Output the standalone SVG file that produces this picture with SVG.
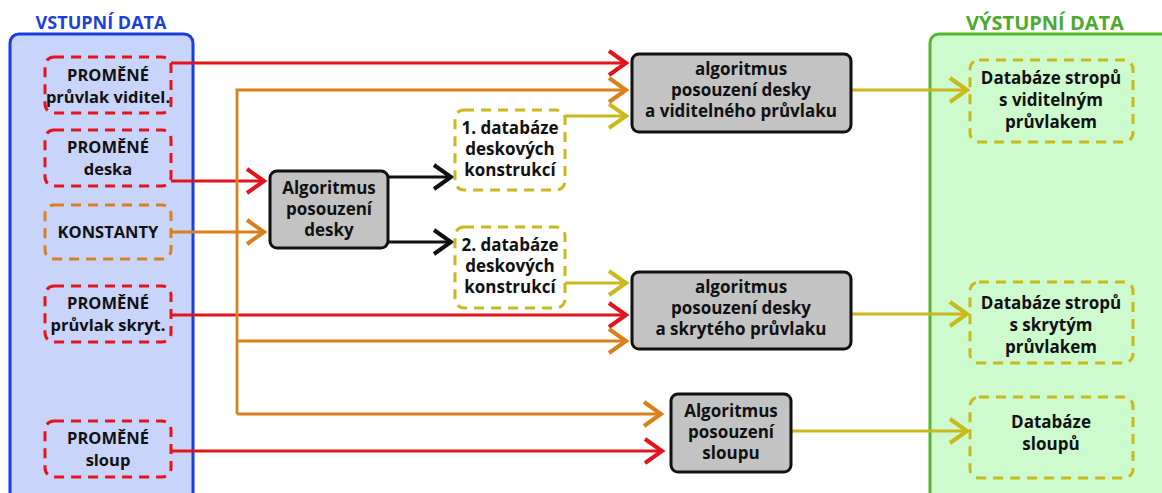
<svg xmlns="http://www.w3.org/2000/svg" width="1162" height="493" viewBox="0 0 1162 493">
  <style>
    text { font-family: "Open Sans", "Liberation Sans", sans-serif; font-weight: bold; font-size: 17px; fill: #111; text-anchor: middle; }
    .in text { font-size: 16.5px; }
    .title-in { fill: #1d3fdc; font-size: 18px; }
    .title-out { fill: #4daa2a; font-size: 20px; }
    .panel-in { fill: #c9d4fb; stroke: #1a3de0; stroke-width: 3; }
    .panel-out { fill: #cdfbcd; stroke: #55b82a; stroke-width: 3; }
    .dash { fill: none; stroke-width: 3; stroke-dasharray: 10 7; }
    .red { stroke: #e3141b; }
    .orange { stroke: #d9801c; }
    .yellow { stroke: #c9b91c; }
    .algo { fill: #c3c3c3; stroke: #111; stroke-width: 3; }
    .line { fill: none; stroke-width: 2.8; }
    .k { stroke: #111; }
  </style>
  <defs>
    <marker id="ah-red" viewBox="-22 -14 24 28" refX="0" refY="0" markerWidth="24" markerHeight="28" markerUnits="userSpaceOnUse" orient="auto" overflow="visible">
      <path d="M-18,-12 L-1,0 L-18,12" fill="none" stroke="#e3141b" stroke-width="4"/>
    </marker>
    <marker id="ah-orange" viewBox="-22 -14 24 28" refX="0" refY="0" markerWidth="24" markerHeight="28" markerUnits="userSpaceOnUse" orient="auto" overflow="visible">
      <path d="M-18,-12 L-1,0 L-18,12" fill="none" stroke="#d9801c" stroke-width="4"/>
    </marker>
    <marker id="ah-yellow" viewBox="-22 -14 24 28" refX="0" refY="0" markerWidth="24" markerHeight="28" markerUnits="userSpaceOnUse" orient="auto" overflow="visible">
      <path d="M-18,-12 L-1,0 L-18,12" fill="none" stroke="#c9b91c" stroke-width="4"/>
    </marker>
    <marker id="ah-black" viewBox="-22 -14 24 28" refX="0" refY="0" markerWidth="24" markerHeight="28" markerUnits="userSpaceOnUse" orient="auto" overflow="visible">
      <path d="M-18,-12 L-1,0 L-18,12" fill="none" stroke="#111" stroke-width="4"/>
    </marker>
  </defs>

  <rect width="1162" height="493" fill="#fff"/>

  <!-- input / output panels -->
  <g id="panel-input">
    <rect class="panel-in" x="10" y="34" width="183" height="480" rx="9"/>
    <text class="title-in" x="101" y="29">VSTUPNÍ DATA</text>
  </g>
  <g id="panel-output">
    <rect class="panel-out" x="930" y="34" width="260" height="480" rx="9"/>
    <text class="title-out" x="1045" y="30">VÝSTUPNÍ DATA</text>
  </g>

  <!-- connectors -->
  <g id="connectors">
    <path class="line red" d="M171,63 H627" marker-end="url(#ah-red)"/>
    <path class="line red" d="M171,181 H265" marker-end="url(#ah-red)"/>
    <path class="line red" d="M171,315 H627" marker-end="url(#ah-red)"/>
    <path class="line red" d="M171,451 H663" marker-end="url(#ah-red)"/>

    <path class="line orange" d="M171,232 H265" marker-end="url(#ah-orange)"/>
    <path class="line orange" d="M237,414 V90 H627" marker-end="url(#ah-orange)"/>
    <path class="line orange" d="M237,341 H627" marker-end="url(#ah-orange)"/>
    <path class="line orange" d="M237,414 H662" marker-end="url(#ah-orange)"/>

    <path class="line k" d="M388,177 H452" marker-end="url(#ah-black)"/>
    <path class="line k" d="M388,242 H452" marker-end="url(#ah-black)"/>

    <path class="line yellow" d="M565,116 H627" marker-end="url(#ah-yellow)"/>
    <path class="line yellow" d="M565,283 H627" marker-end="url(#ah-yellow)"/>
    <path class="line yellow" d="M851,90 H968" marker-end="url(#ah-yellow)"/>
    <path class="line yellow" d="M851,314 H968" marker-end="url(#ah-yellow)"/>
    <path class="line yellow" d="M791,431 H968" marker-end="url(#ah-yellow)"/>
  </g>

  <!-- input nodes -->
  <g id="in-pruvlak-viditel" class="in">
    <rect class="dash red" x="45" y="57" width="126" height="56" rx="9"/>
    <text x="108" y="81">PROMĚNÉ</text>
    <text x="108" y="103">průvlak viditel.</text>
  </g>
  <g id="in-deska" class="in">
    <rect class="dash red" x="45" y="130" width="126" height="56" rx="9"/>
    <text x="108" y="153">PROMĚNÉ</text>
    <text x="108" y="175">deska</text>
  </g>
  <g id="in-konstanty" class="in">
    <rect class="dash orange" x="45" y="205" width="126" height="54" rx="9"/>
    <text x="108" y="238">KONSTANTY</text>
  </g>
  <g id="in-pruvlak-skryt" class="in">
    <rect class="dash red" x="45" y="286" width="126" height="56" rx="9"/>
    <text x="108" y="309">PROMĚNÉ</text>
    <text x="108" y="331">průvlak skryt.</text>
  </g>
  <g id="in-sloup" class="in">
    <rect class="dash red" x="45" y="421" width="126" height="56" rx="9"/>
    <text x="108" y="444">PROMĚNÉ</text>
    <text x="108" y="466">sloup</text>
  </g>

  <!-- algorithm nodes -->
  <g id="algo-desky">
    <rect class="algo" x="270" y="171" width="118" height="77" rx="7"/>
    <text x="329" y="194">Algoritmus</text>
    <text x="329" y="215">posouzení</text>
    <text x="329" y="236">desky</text>
  </g>
  <g id="algo-viditelny">
    <rect class="algo" x="632" y="54" width="219" height="78" rx="7"/>
    <text x="741" y="75">algoritmus</text>
    <text x="741" y="96">posouzení desky</text>
    <text x="741" y="117">a viditelného průvlaku</text>
  </g>
  <g id="algo-skryty">
    <rect class="algo" x="632" y="272" width="219" height="77" rx="7"/>
    <text x="741" y="293">algoritmus</text>
    <text x="741" y="314">posouzení desky</text>
    <text x="741" y="335">a skrytého průvlaku</text>
  </g>
  <g id="algo-sloupu">
    <rect class="algo" x="671" y="394" width="120" height="78" rx="7"/>
    <text x="731" y="417">Algoritmus</text>
    <text x="731" y="438">posouzení</text>
    <text x="731" y="459">sloupu</text>
  </g>

  <!-- intermediate databases -->
  <g id="db-1">
    <rect class="dash yellow" x="455" y="110" width="110" height="80" rx="9"/>
    <text x="510" y="134">1. databáze</text>
    <text x="510" y="155">deskových</text>
    <text x="510" y="176">konstrukcí</text>
  </g>
  <g id="db-2">
    <rect class="dash yellow" x="455" y="227" width="110" height="81" rx="9"/>
    <text x="510" y="251">2. databáze</text>
    <text x="510" y="272">deskových</text>
    <text x="510" y="293">konstrukcí</text>
  </g>

  <!-- output databases -->
  <g id="out-viditelny">
    <rect class="dash yellow" x="970" y="60" width="163" height="82" rx="9"/>
    <text x="1051" y="84">Databáze stropů</text>
    <text x="1051" y="106">s viditelným</text>
    <text x="1051" y="128">průvlakem</text>
  </g>
  <g id="out-skryty">
    <rect class="dash yellow" x="970" y="282" width="163" height="81" rx="9"/>
    <text x="1051" y="309">Databáze stropů</text>
    <text x="1051" y="331">s skrytým</text>
    <text x="1051" y="353">průvlakem</text>
  </g>
  <g id="out-sloupy">
    <rect class="dash yellow" x="970" y="397" width="163" height="81" rx="9"/>
    <text x="1051" y="428">Databáze</text>
    <text x="1051" y="450">sloupů</text>
  </g>
</svg>
